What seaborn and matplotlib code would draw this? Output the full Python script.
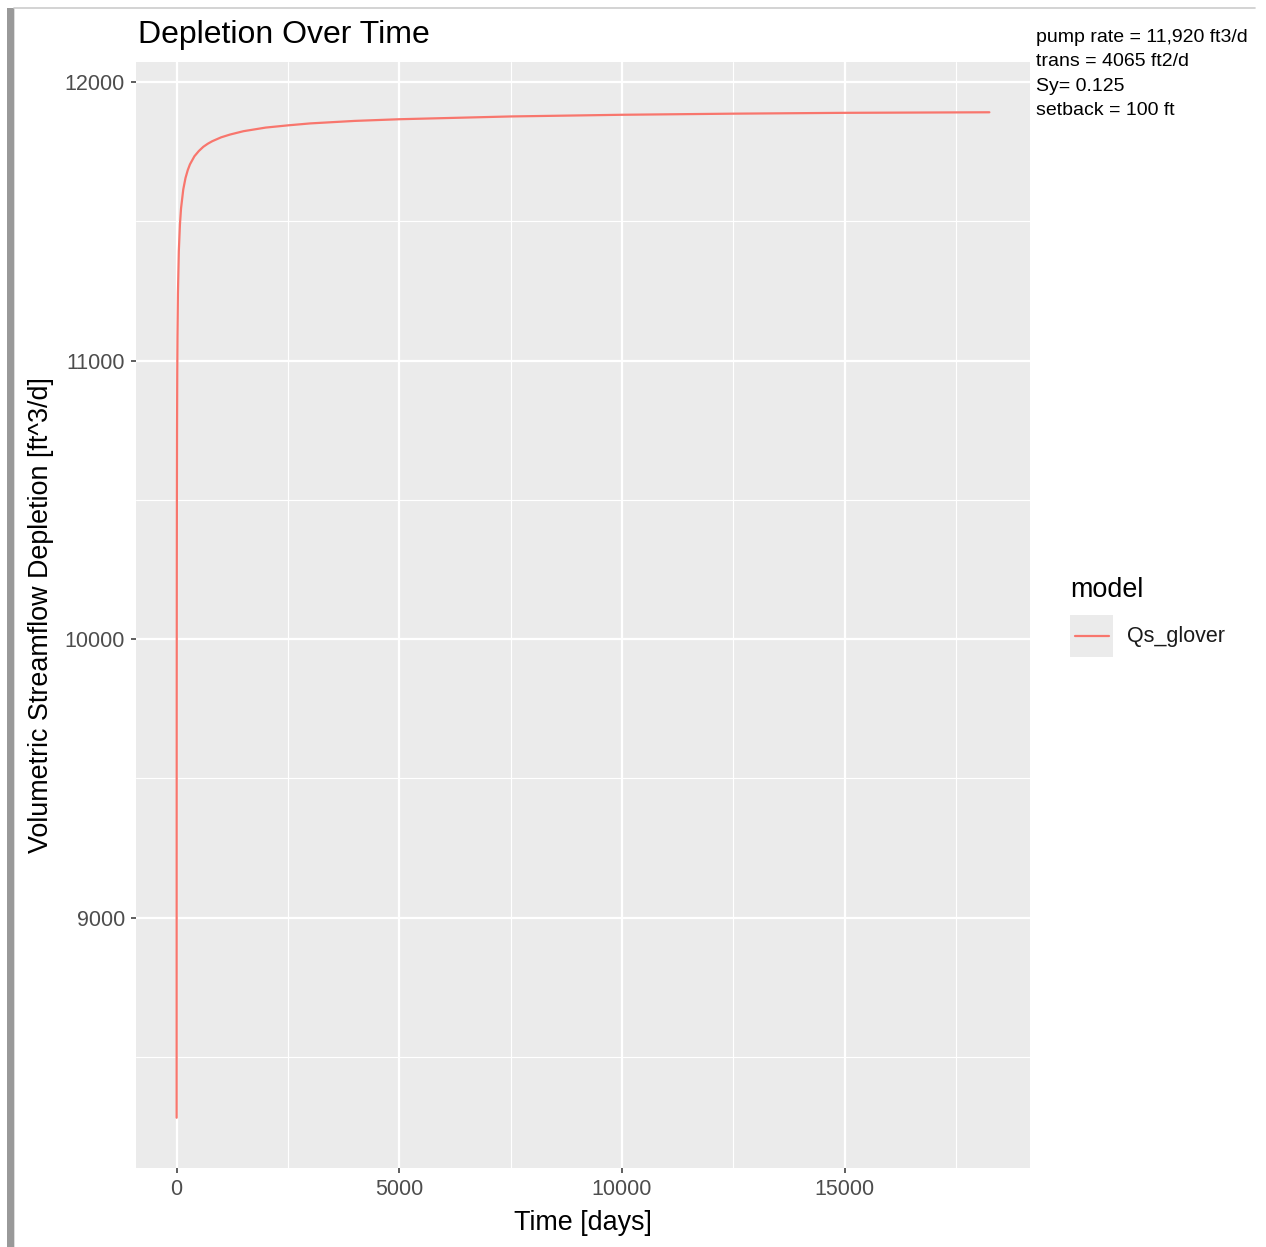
import numpy as np
import pandas as pd
import matplotlib
matplotlib.use("Agg")
import matplotlib.pyplot as plt
from matplotlib.patches import Rectangle
from matplotlib.lines import Line2D
from matplotlib.ticker import MultipleLocator
import seaborn as sns

# ---- data ----
time_days = [1, 2, 3, 5, 7, 10, 15, 20, 30, 50, 75, 100, 150, 200, 250, 300,
             400, 500, 600, 700, 800, 1000, 1200, 1500, 2000, 2500, 3000,
             4000, 5000, 7500, 10000, 12500, 15000, 18250]
depletion = [8281, 9317, 9785, 10260, 10516, 10744, 10959, 11087, 11240,
             11393, 11489, 11547, 11615, 11656, 11684, 11705, 11734, 11753,
             11768, 11779, 11788, 11802, 11812, 11824, 11837, 11845, 11852,
             11861, 11867, 11877, 11883, 11887, 11890, 11892]
model_name = "Qs_glover"
x_ticks = [0, 5000, 10000, 15000]
y_ticks = [9000, 10000, 11000, 12000]
annotation_lines = ["pump rate = 11,920 ft3/d", "trans = 4065 ft2/d",
                    "Sy= 0.125", "setback = 100 ft"]

df = pd.DataFrame({"time": time_days, "Qs": depletion,
                   "model": [model_name] * len(time_days)})

sns.set_theme(style="darkgrid")
plt.rcParams["font.family"] = ["Liberation Sans", "DejaVu Sans"]

W, H = 1266, 1247
fig = plt.figure(figsize=(W / 100, H / 100), dpi=100)
fig.patch.set_facecolor("white")

def fx(px):
    return px / W

def fy(py):
    return 1 - py / H

pl, pr, pt, pb = 136, 1030, 62, 1168
ax = fig.add_axes([fx(pl), fy(pb), fx(pr) - fx(pl), (pb - pt) / H])
ax.set_facecolor("#EBEBEB")

sns.lineplot(data=df, x="time", y="Qs", hue="model", palette=["#F8766D"],
             linewidth=1.6, legend=False, ax=ax, zorder=3)

# ggplot-like expansion (5%)
xmin, xmax = min(time_days), max(time_days)
ymin, ymax = min(depletion), max(depletion)
xr, yr = xmax - xmin, ymax - ymin
ax.set_xlim(xmin - 0.05 * xr, xmax + 0.05 * xr)
ax.set_ylim(ymin - 0.05 * yr, ymax + 0.05 * yr)

ax.set_xticks(x_ticks)
ax.set_yticks(y_ticks)
ax.xaxis.set_minor_locator(MultipleLocator(2500))
ax.yaxis.set_minor_locator(MultipleLocator(500))
ax.grid(which="major", color="white", linewidth=1.6)
ax.grid(which="minor", color="white", linewidth=0.8)
for s in ax.spines.values():
    s.set_visible(False)
ax.tick_params(axis="both", which="major", length=3.6, width=1.1,
               color="#333333", labelcolor="#4D4D4D", labelsize=15.5,
               pad=4.3, bottom=True, left=True)
ax.tick_params(axis="both", which="minor", length=0)
ax.set_xlabel("Time [days]", fontsize=19.4, color="black", labelpad=7)
ax.set_ylabel("Volumetric Streamflow Depletion [ft^3/d]", fontsize=19.4,
              color="black", labelpad=8)

# title
fig.text(fx(138), fy(43), "Depletion Over Time", fontsize=23, color="black",
         ha="left", va="baseline")

# annotation text top right
for i, line in enumerate(annotation_lines):
    fig.text(fx(1036), fy(42 + i * 24.3), line, fontsize=14, color="black",
             ha="left", va="baseline")

# legend (ggplot style)
fig.text(fx(1070), fy(597), "model", fontsize=19.4, color="black",
         ha="left", va="baseline")
fig.patches.append(Rectangle((fx(1070), fy(657)), fx(1113) - fx(1070),
                             (657 - 615) / H, transform=fig.transFigure,
                             facecolor="#EBEBEB", edgecolor="none"))
fig.lines.append(Line2D([fx(1075), fx(1109)], [fy(636), fy(636)],
                        transform=fig.transFigure, color="#F8766D",
                        linewidth=1.6))
fig.text(fx(1127), fy(636), model_name, fontsize=15.5, color="#1A1A1A",
         ha="left", va="center")

# screenshot frame artefacts
fig.patches.append(Rectangle((fx(7), 0), fx(14) - fx(7), fy(8),
                             transform=fig.transFigure, facecolor="#999999",
                             edgecolor="none"))
fig.patches.append(Rectangle((fx(14), 0), fx(15) - fx(14), fy(8),
                             transform=fig.transFigure, facecolor="#DDDDDD",
                             edgecolor="none"))
fig.lines.append(Line2D([fx(14), fx(1255)], [fy(7.5), fy(7.5)],
                        transform=fig.transFigure, color="#CCCCCC",
                        linewidth=1.2))

fig.savefig("out.png", dpi=100, facecolor="white")
